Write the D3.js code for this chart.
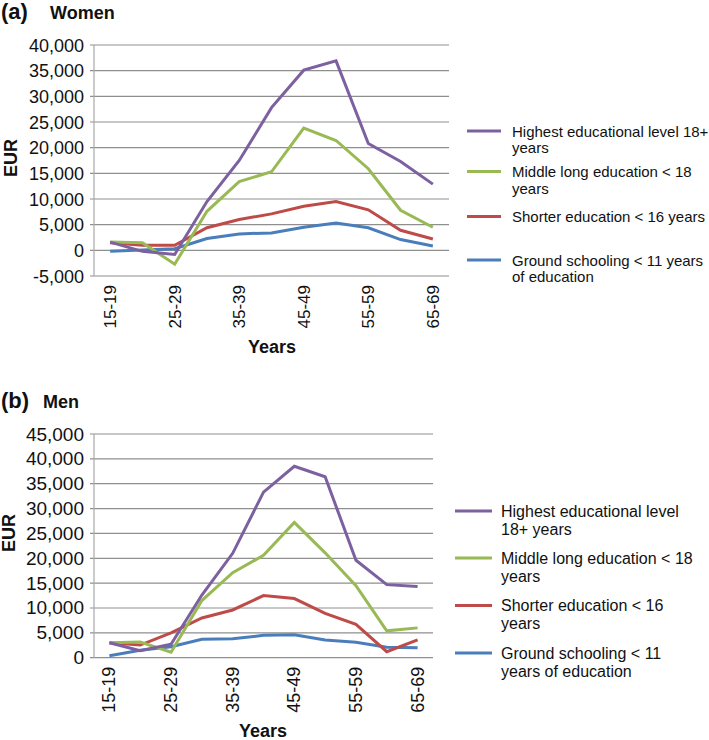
<!DOCTYPE html>
<html><head><meta charset="utf-8">
<script src="https://cdn.jsdelivr.net/npm/d3@7"></script>
<style>body{margin:0;background:#fff;} svg{display:block;font-family:"Liberation Sans",Arial,sans-serif;}</style>
</head><body>
<svg id="chart" width="709" height="740"></svg>
<script>
const categories = ["15-19","20-24","25-29","30-34","35-39","40-44","45-49","50-54","55-59","60-64","65-69"];
const shownLabels = ["15-19","25-29","35-39","45-49","55-59","65-69"];
const seriesNames = ["Highest educational level 18+ years","Middle long education < 18 years","Shorter education < 16 years","Ground schooling < 11 years of education"];
const seriesColors = ["#7D60A0","#98B954","#BE4B48","#4A7EBB"];

const womenHighest = [1600,-200,-800,9500,17500,27800,35100,36900,20800,17300,12900];
const womenMiddle  = [1600,1500,-2700,7600,13400,15300,23800,21400,15900,7800,4500];
const womenShorter = [1500,1000,1000,4400,6000,7100,8600,9500,7900,3900,2200];
const womenGround  = [-200,50,300,2300,3200,3400,4500,5300,4400,2100,850];

const menHighest = [3000,1400,2700,12600,21000,33300,38500,36400,19600,14700,14300];
const menMiddle  = [3000,3150,1100,11500,17100,20600,27200,21100,14500,5400,6000];
const menShorter = [3000,2550,5000,8000,9600,12500,11900,8900,6700,1200,3600];
const menGround  = [400,1500,2200,3700,3800,4500,4600,3550,3100,2100,2000];

const womenTicks = [-5000,0,5000,10000,15000,20000,25000,30000,35000,40000];
const menTicks = [0,5000,10000,15000,20000,25000,30000,35000,40000,45000];

const womenLegend = [["Highest educational level 18+","years"],["Middle long education < 18","years"],["Shorter education < 16  years"],["Ground schooling < 11 years","of education"]];
const menLegend = [["Highest educational level","18+ years"],["Middle long education < 18","years"],["Shorter education < 16","years"],["Ground schooling < 11","years of education"]];

const svg = d3.select("#chart");
const fmt = d3.formatLocale({decimal:".",thousands:",",grouping:[3],currency:["",""],minus:"-"}).format(",");

function panel(cfg){
  const g = svg.append("g");
  const x = d3.scaleBand().domain(categories).range([cfg.left, cfg.right]);
  const y = d3.scaleLinear().domain(cfg.domain).range([cfg.bottom, cfg.top]);
  g.selectAll("line.grid").data(cfg.ticks).join("line")
    .attr("x1", cfg.left-4).attr("x2", cfg.right)
    .attr("y1", d=>y(d)).attr("y2", d=>y(d))
    .attr("stroke", "#8f8f8f").attr("stroke-width", 1.2);
  g.append("line").attr("x1", cfg.left).attr("x2", cfg.left)
    .attr("y1", y(cfg.domain[1])).attr("y2", y(cfg.domain[0]))
    .attr("stroke", "#a8a8a8").attr("stroke-width", 1.2);
  g.selectAll("text.yt").data(cfg.ticks).join("text")
    .attr("x", cfg.left-10).attr("y", d=>y(d)+6.5)
    .attr("text-anchor","end").attr("font-size", cfg.yFont).attr("fill","#111")
    .text(d=>fmt(d));
  g.selectAll("text.xt").data(shownLabels).join("text")
    .attr("transform", d=>`translate(${x(d)+x.bandwidth()/2+6},${cfg.bottom+9}) rotate(-90)`)
    .attr("text-anchor","end").attr("font-size", cfg.xFont).attr("fill","#111")
    .text(d=>d);
  const line = d3.line().x((d,i)=>x(categories[i])+x.bandwidth()/2).y(d=>y(d));
  const data = cfg.series.slice().reverse();
  const cols = seriesColors.slice().reverse();
  data.forEach((s,k)=>{
    g.append("path").attr("d", line(s)).attr("fill","none")
      .attr("stroke", cols[k]).attr("stroke-width", 3).attr("stroke-linejoin","miter");
  });
  g.append("text").attr("x", cfg.yearsX).attr("y", cfg.yearsY).attr("text-anchor","middle")
    .attr("font-size",18).attr("font-weight","bold").attr("fill","#111").text("Years");
  g.append("text").attr("transform",`translate(${cfg.eurX},${cfg.eurY}) rotate(-90)`)
    .attr("text-anchor","middle").attr("font-size",18).attr("font-weight","bold").attr("fill","#111").text("EUR");
  g.append("text").attr("x",1).attr("y",cfg.titleY).attr("font-size",22).attr("font-weight","bold").attr("fill","#111").text(cfg.letter);
  g.append("text").attr("x",cfg.nameX).attr("y",cfg.titleY).attr("font-size",18).attr("font-weight","bold").attr("fill","#111").text(cfg.name);
  cfg.legend.forEach((lines,i)=>{
    const ly = cfg.legendY[i];
    g.append("line").attr("x1",cfg.legX1).attr("x2",cfg.legX2).attr("y1",ly).attr("y2",ly)
      .attr("stroke",seriesColors[i]).attr("stroke-width",3);
    const t = g.append("text").attr("font-size",cfg.legFont).attr("fill","#111");
    lines.forEach((s,j)=>{
      t.append("tspan").attr("x",cfg.legTextX).attr("y",ly+5.5+j*cfg.legLH).text(s);
    });
  });
}

panel({left:94,right:449,top:45,bottom:276,domain:[-5000,40000],ticks:womenTicks,
  series:[womenHighest,womenMiddle,womenShorter,womenGround],yFont:18,xFont:17,
  yearsX:272,yearsY:353,eurX:17,eurY:158,letter:"(a)",name:"Women",nameX:50,titleY:19,
  legend:womenLegend,legendY:[131,171.5,216.5,260],legX1:467,legX2:501,legTextX:512,legFont:15,legLH:16.7});

panel({left:94,right:433,top:434,bottom:657.7,domain:[0,45000],ticks:menTicks,
  series:[menHighest,menMiddle,menShorter,menGround],yFont:19,xFont:18,
  yearsX:263,yearsY:737,eurX:15,eurY:533,letter:"(b)",name:"Men",nameX:43,titleY:408,
  legend:menLegend,legendY:[511,558,605.5,653],legX1:455,legX2:492,legTextX:501,legFont:16,legLH:18.3});
</script>
</body></html>
